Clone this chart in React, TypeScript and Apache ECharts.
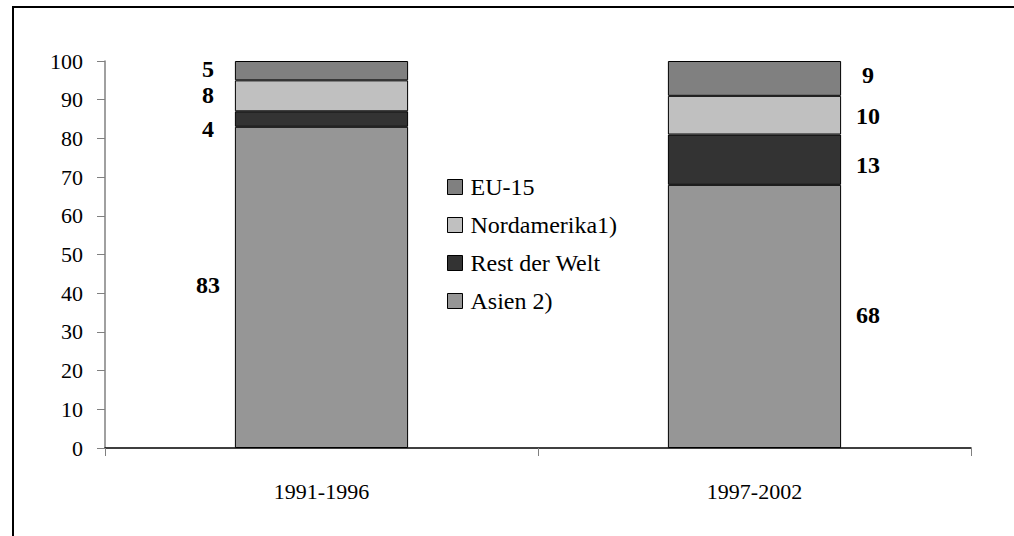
import React, { useEffect, useRef } from "react";
import * as echarts from "echarts";

const categories = ["1991-1996", "1997-2002"];
const seriesNames = ["Asien 2)", "Rest der Welt", "Nordamerika1)", "EU-15"];
const asien = [83, 68];
const restDerWelt = [4, 13];
const nordamerika = [8, 10];
const eu15 = [5, 9];
const legendOrder = ["EU-15", "Nordamerika1)", "Rest der Welt", "Asien 2)"];

const colors = ["#969696", "#333333", "#c0c0c0", "#808080"];
// per-series, per-category vertical nudges for labels (Excel label placement)
const labelNudge = [
  [-2, -1],
  [10, 5],
  [-1, 1],
  [-2, -3],
];

const FONT = "Liberation Serif";

export default function App() {
  const ref = useRef<HTMLDivElement>(null);
  useEffect(() => {
    if (!ref.current) return;
    const chart = echarts.init(ref.current, null, { renderer: "svg" });
    const values = [asien, restDerWelt, nordamerika, eu15];
    const series = values.map((arr, si) => ({
      name: seriesNames[si],
      type: "bar",
      stack: "total",
      barWidth: "40%",
      itemStyle: { color: colors[si], borderColor: "#000", borderWidth: 1 },
      data: arr.map((v, ci) => ({
        value: v,
        label: {
          show: true,
          position: ci === 0 ? "left" : "right",
          distance: 27,
          align: "center",
          offset: [0, labelNudge[si][ci]],
          fontFamily: FONT,
          fontWeight: "bold",
          fontSize: 24,
          color: "#000",
          formatter: String(v),
        },
      })),
    }));
    chart.setOption({
      animation: false,
      textStyle: { fontFamily: FONT },
      graphic: [
        {
          type: "rect",
          shape: { x: 13, y: 7, width: 1200, height: 700 },
          style: { fill: "none", stroke: "#000", lineWidth: 2 },
          silent: true,
        },
      ],
      grid: { left: 105, right: 43, top: 61, bottom: 88 },
      legend: {
        orient: "vertical",
        left: 447,
        top: 175,
        padding: 0,
        itemWidth: 15,
        itemHeight: 15,
        itemGap: 14,
        icon: "rect",
        data: legendOrder,
        itemStyle: { borderColor: "#000", borderWidth: 1 },
        textStyle: {
          fontFamily: FONT,
          fontSize: 24,
          lineHeight: 24,
          color: "#000",
          padding: [0, 0, 0, 3],
        },
      },
      xAxis: {
        type: "category",
        data: categories,
        axisLine: { lineStyle: { color: "#000", width: 1.5 } },
        axisTick: { show: true, length: 8, lineStyle: { color: "#808080" } },
        axisLabel: { fontFamily: FONT, fontSize: 22, color: "#000", margin: 32 },
      },
      yAxis: {
        type: "value",
        min: 0,
        max: 100,
        interval: 10,
        splitLine: { show: false },
        axisLine: { show: true, lineStyle: { color: "#808080", width: 1.5 } },
        axisTick: { show: true, length: 8, lineStyle: { color: "#808080" } },
        axisLabel: { fontFamily: FONT, fontSize: 22, color: "#000", margin: 22 },
      },
      series,
    });
    return () => chart.dispose();
  }, []);
  return (
    <div
      ref={ref}
      style={{ position: "fixed", left: 0, top: 0, width: 1014, height: 536, background: "#fff" }}
    />
  );
}
